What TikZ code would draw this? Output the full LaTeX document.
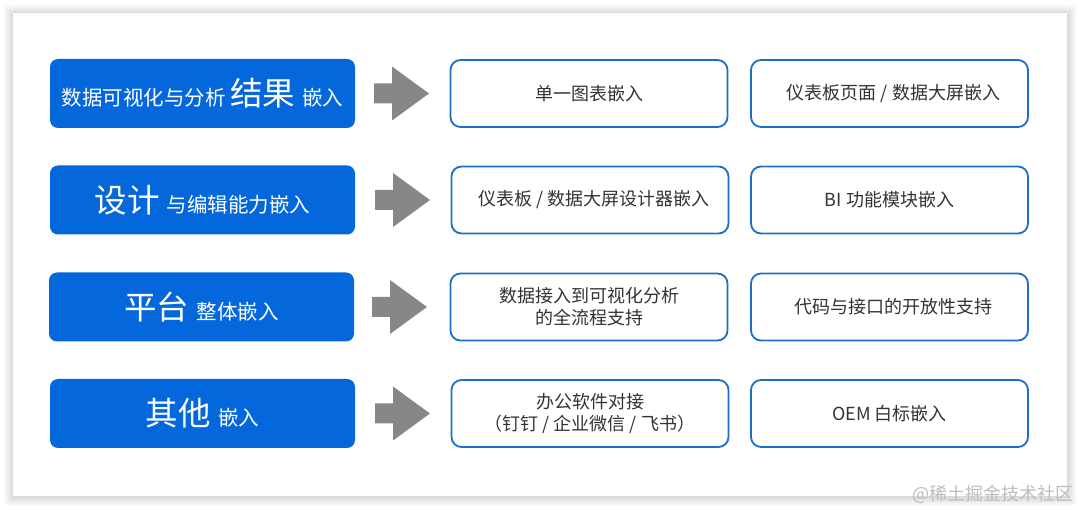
\documentclass[tikz,border=0pt]{standalone}
\usepackage{fontspec}
\setmainfont{Noto Sans CJK SC}
\definecolor{bluefill}{HTML}{0468DC}
\definecolor{blueline}{HTML}{1B6FC8}
\definecolor{txtgray}{HTML}{333333}
\definecolor{arrowgray}{HTML}{878787}
\definecolor{wmgray}{HTML}{BDBDBD}
\newcommand{\smt}{\fontsize{20.5}{24}\selectfont}
\newcommand{\bgt}{\fontsize{32.5}{36}\selectfont}
\newcommand{\slsep}{\hspace{4pt}/\hspace{4pt}}
\begin{document}
\begin{tikzpicture}[x=1pt,y=-1pt,
  bluebox/.style={fill=bluefill, rounded corners=8pt, minimum width=305pt, minimum height=69pt, text=white, inner sep=0pt},
  outbox/.style={draw=blueline, line width=1.8pt, fill=white, rounded corners=10pt, minimum width=277pt, minimum height=67pt, text=txtgray, font=\fontsize{18}{22}\selectfont, align=center, inner sep=0pt},
  blockarrow/.style={fill=arrowgray},
  wmark/.style={text=wmgray, font=\fontsize{18}{20}\selectfont, inner sep=0pt}]
\useasboundingbox (0,0) rectangle (1080,510);
\fill[white] (0,0) rectangle (1080,510);
% card shadow
\foreach \i in {1,...,9}{
  \fill[black, opacity=0.016, rounded corners=3pt] (13-\i,13-\i+1) rectangle (1067+\i,496+\i+1);
}
\fill[white] (13,13) rectangle (1067,496);

% row 1
\node[bluebox] (b1) at (202.5,93.5) {\smt 数据可视化与分析 \bgt 结果 \smt 嵌入};
\node[outbox] (a1) at (589,93.5) {单一图表嵌入};
\node[outbox] (c1) at (889.5,93.5) {\hspace{8pt}仪表板页面\slsep 数据大屏嵌入};
% row 2
\node[bluebox] (b2) at (202.5,200) {\bgt 设计 \smt 与编辑能力嵌入};
\node[outbox] (a2) at (590,200) {\hspace{8pt}仪表板\slsep 数据大屏设计器嵌入};
\node[outbox] (c2) at (889.5,200) {BI 功能模块嵌入};
% row 3
\node[bluebox] (b3) at (201.5,307) {\bgt 平台 \smt 整体嵌入};
\node[outbox] (a3) at (589,307) {数据接入到可视化分析\\的全流程支持};
\node[outbox] (c3) at (889.5,307) {\hspace{8pt}代码与接口的开放性支持};
% row 4
\node[bluebox] (b4) at (202.5,413.5) {\bgt 其他 \smt 嵌入};
\node[outbox] (a4) at (590,413.5) {办公软件对接\\（钉钉\slsep 企业微信\slsep 飞书）};
\node[outbox] (c4) at (889.5,413.5) {OEM 白标嵌入};

% block arrows
\foreach \r/\x in {1/374,2/375,3/372,4/375}{
  \path (b\r.east) coordinate (m\r);
  \fill[blockarrow] (\x,0 |- m\r) ++(0,-10) -- ++(18,0) -- ++(0,-17) -- ++(37,27) -- ++(-37,27) -- ++(0,-17) -- ++(-18,0) -- cycle;
}

\node[wmark, anchor=east] (wm) at (1074,494) {@稀土掘金技术社区};
\end{tikzpicture}
\end{document}
